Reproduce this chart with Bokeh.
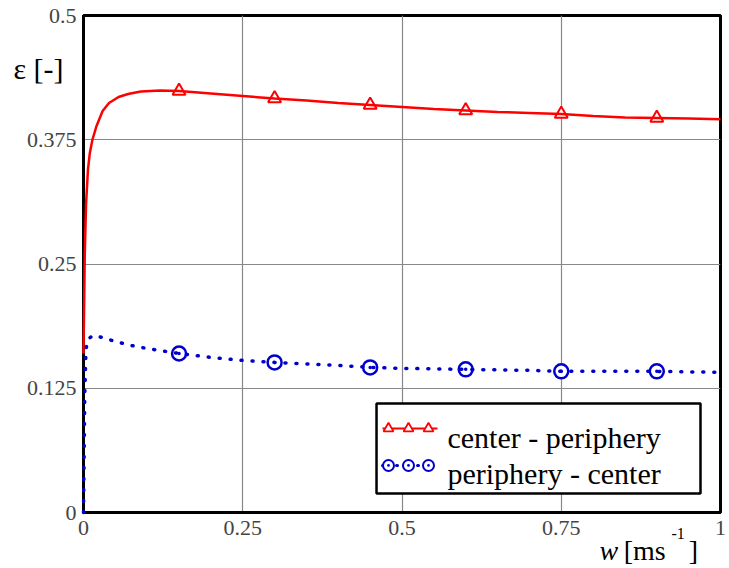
from bokeh.plotting import figure
from bokeh.models import FixedTicker, Range1d
from bokeh.core.properties import value
from bokeh.embed import file_html
from bokeh.resources import INLINE

# ---- data ----
red_w = [0.0, 0.002, 0.004, 0.007, 0.010, 0.014, 0.020, 0.030, 0.040, 0.055,
         0.070, 0.090, 0.12, 0.15, 0.20, 0.25, 0.30, 0.35, 0.40, 0.45, 0.50,
         0.55, 0.60, 0.65, 0.70, 0.75, 0.80, 0.85, 0.90, 0.95, 1.00]
red_eps = [0.160, 0.260, 0.310, 0.345, 0.362, 0.375, 0.388, 0.404, 0.412, 0.418,
           0.421, 0.4235, 0.4245, 0.4240, 0.4215, 0.4190, 0.4165, 0.4145, 0.4120,
           0.4100, 0.4080, 0.4060, 0.4045, 0.4030, 0.4020, 0.4010, 0.3990, 0.3975,
           0.3970, 0.3965, 0.3955]

blue_w = [0.0, 0.001, 0.002, 0.004, 0.008, 0.015, 0.03, 0.05, 0.075, 0.10, 0.15,
          0.20, 0.25, 0.30, 0.40, 0.45, 0.50, 0.60, 0.70, 0.75, 0.80, 0.90, 1.00]
blue_eps = [0.0, 0.06, 0.12, 0.165, 0.175, 0.178, 0.176, 0.172, 0.168, 0.165,
            0.160, 0.156, 0.153, 0.151, 0.148, 0.146, 0.145, 0.144, 0.143, 0.142,
            0.142, 0.142, 0.141]

marker_w = [0.15, 0.30, 0.45, 0.60, 0.75, 0.90]
red_marker_eps = [0.4240, 0.4165, 0.4100, 0.4045, 0.4010, 0.3970]
blue_marker_eps = [0.160, 0.151, 0.146, 0.144, 0.142, 0.142]

x_ticks = [0, 0.25, 0.5, 0.75, 1]
y_ticks = [0, 0.125, 0.25, 0.375, 0.5]
x_tick_labels = {0: "0", 0.25: "0.25", 0.5: "0.5", 0.75: "0.75", 1: "1"}
y_tick_labels = {0: "0", 0.125: "0.125", 0.25: "0.25", 0.375: "0.375", 0.5: "0.5"}

series_names = ["center - periphery", "periphery - center"]

# ---- decoration layout (legend box and axis titles, in plot units) ----
legend_box = dict(left=0.460, right=0.9686, bottom=0.0191, top=0.1097)
legend_rows = [0.0845, 0.0473]          # glyph centre line of each row
legend_text_base = [0.0755, 0.0392]     # text baseline of each row
legend_line_x = [0.4694, 0.5557]
legend_mark_x = [0.4788, 0.5102, 0.5416]
legend_text_x = 0.5714

y_title = [("ε [-]", -0.110, 0.4467, "30px", "normal")]
x_title = [("w", 0.8100, -0.0382, "28px", "italic"),
           ("[ms", 0.8480, -0.0382, "28px", "normal"),
           ("-1", 0.9230, -0.0211, "16px", "normal"),
           ("]", 0.9500, -0.0382, "28px", "normal")]

RED = "#ff0000"
BLUE = "#0000cc"
SERIF = "Liberation Serif, serif"

p = figure(width=729, height=568, output_backend="svg", toolbar_location=None,
           x_range=Range1d(0, 1), y_range=Range1d(0, 0.5),
           min_border_left=83, min_border_right=9, min_border_top=15,
           min_border_bottom=56)
p.background_fill_color = "white"
p.border_fill_color = "white"
p.outline_line_color = "black"
p.outline_line_width = 3

for ax, ticks, labels in ((p.xaxis, x_ticks, x_tick_labels), (p.yaxis, y_ticks, y_tick_labels)):
    ax.ticker = FixedTicker(ticks=ticks)
    ax.major_label_overrides = labels
    ax.major_tick_out = 0
    ax.major_tick_in = 0
    ax.minor_tick_out = 0
    ax.minor_tick_in = 0
    ax.axis_line_color = "black"
    ax.axis_line_width = 3
    ax.major_label_text_font = SERIF
    ax.major_label_text_font_size = "22px"
p.xaxis.major_label_standoff = 8
p.yaxis.major_label_standoff = 7

p.xgrid.ticker = FixedTicker(ticks=x_ticks)
p.ygrid.ticker = FixedTicker(ticks=y_ticks)
p.grid.grid_line_color = "#888888"
p.grid.grid_line_width = 1.2

# series (lines above the axis lines, as in the reference)
p.line(red_w, red_eps, line_color=RED, line_width=2.5, level="overlay")
p.scatter(marker_w, red_marker_eps, marker="triangle", size=13,
          line_color=RED, fill_color="white", line_width=2)
p.line(blue_w, blue_eps, line_color=BLUE, line_width=3.5,
       line_dash="1 10", line_cap="round", level="overlay")
p.scatter(marker_w, blue_marker_eps, marker="circle_dot", size=14,
          line_color=BLUE, fill_color="white", line_width=2.5)

# legend, drawn like the original (line with three markers)
p.quad(left=[legend_box["left"]], right=[legend_box["right"]],
       bottom=[legend_box["bottom"]], top=[legend_box["top"]],
       fill_color="white", line_color="black", line_width=2.5)
p.line(legend_line_x, [legend_rows[0]] * 2, line_color=RED, line_width=2)
p.scatter(legend_mark_x, [legend_rows[0]] * 3, marker="triangle", size=10,
          line_color=RED, fill_color="white", line_width=1.8)
p.line(legend_line_x, [legend_rows[1]] * 2, line_color=BLUE, line_width=3,
       line_dash="1 6", line_cap="round")
p.scatter(legend_mark_x, [legend_rows[1]] * 3, marker="circle_dot", size=11,
          line_color=BLUE, fill_color="white", line_width=2)
p.text(x=[legend_text_x] * 2, y=legend_text_base, text=series_names,
       text_font=value(SERIF), text_font_size="30px", text_color="black",
       text_align="left", text_baseline="alphabetic")

# axis titles drawn as overlay text (not clipped to the frame)
for parts in (y_title, x_title):
    for txt, tx, ty, size, style in parts:
        p.text(x=[tx], y=[ty], text=[txt], level="overlay",
               text_font=value(SERIF), text_font_size=size,
               text_font_style=style, text_color="black",
               text_align="left", text_baseline="alphabetic")

open("out.html", "w").write(file_html(p, INLINE))
